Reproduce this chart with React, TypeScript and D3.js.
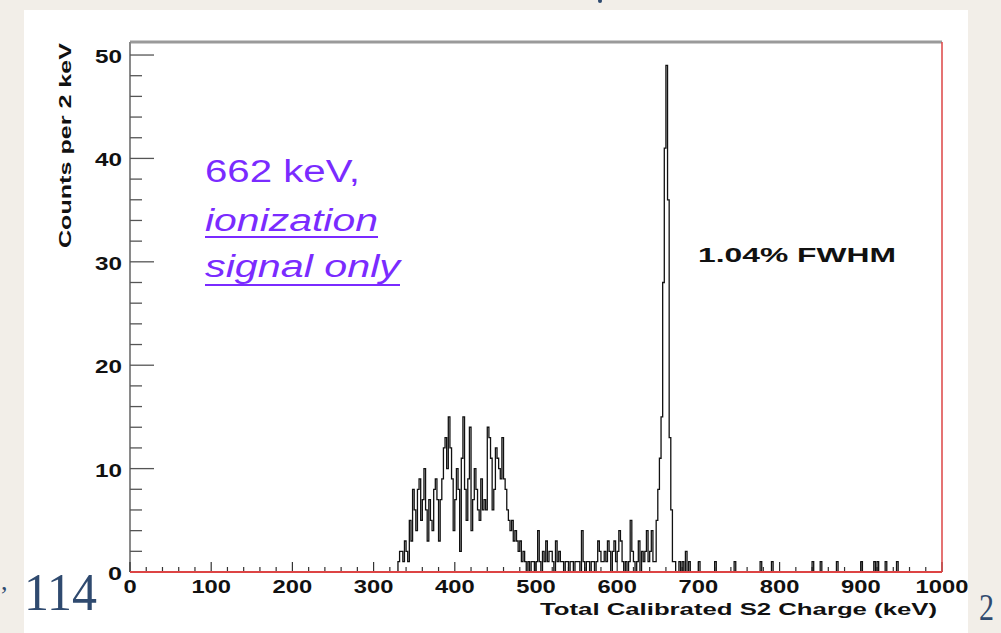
import React, { useEffect } from "react";
import * as d3 from "d3";

// ---- data (counts per 2 keV bin) ----
const BIN_WIDTH = 2;
const X_MAX = 1000;

// bins starting at 330 keV (bulk of the spectrum)
const bulkStart = 330;
const bulkCounts = [
  1, 2, 2, 1, 3, 2, 1, 5, 3, 8, 6, 4, 8, 9, 5, 7, 10, 6, 3, 7,
  5, 4, 8, 9, 7, 3, 7, 9, 12, 13, 10, 15, 12, 9, 4, 7, 10, 8, 2, 11,
  15, 8, 5, 9, 14, 4, 7, 10, 8, 6, 5, 9, 6, 7, 6, 14, 13, 11, 6, 8,
  12, 11, 10, 9, 13, 9, 8, 6, 5, 4, 5, 3, 4, 3, 2, 3, 1, 2, 1, 0,
  1, 0, 1, 1, 0,
];

// bins starting at 500 keV (Compton tail region)
const tailStart = 500;
const tailCounts = [
  1, 4, 1, 0, 2, 1, 3, 1, 2, 2, 1, 0, 3, 1, 2, 1, 1, 0, 1, 1,
  0, 1, 1, 0, 1, 1, 1, 0, 4, 1, 0, 1, 1, 0, 1, 1, 0, 1, 3, 2,
  1, 1, 2, 1, 3, 2, 0, 2, 3, 1, 2, 4, 3, 1, 0, 1, 0, 1, 5, 2,
  1, 0, 1, 3, 0, 2, 1, 2, 4, 1,
];

// bins starting at 640 keV (photopeak)
const peakStart = 640;
const peakCounts = [2, 4, 1, 1, 5, 8, 11, 15, 28, 41, 49, 36, 13, 6, 1, 1];

// isolated counts above the peak: bin start keV and count
const highKeV = [676, 680, 684, 688, 700, 720, 744, 776, 790, 840, 850, 870, 900, 916, 920, 930, 944];
const highCounts = [1, 1, 2, 1, 1, 1, 1, 1, 1, 1, 1, 1, 1, 1, 1, 1, 1];

const xTicks = [0, 100, 200, 300, 400, 500, 600, 700, 800, 900, 1000];
const yTicks = [0, 10, 20, 30, 40, 50];

const yTitle = "Counts per 2 keV";
const xTitle = "Total Calibrated S2 Charge (keV)";
const noteLines = ["662 keV,", "ionization", "signal only"];
const fwhmLabel = "1.04% FWHM";

function buildHistogram(): number[] {
  const n = X_MAX / BIN_WIDTH;
  const h = new Array(n).fill(0);
  const put = (start: number, arr: number[]) =>
    arr.forEach((v, i) => {
      const idx = start / BIN_WIDTH + i;
      if (idx >= 0 && idx < n) h[idx] = v;
    });
  put(bulkStart, bulkCounts);
  put(tailStart, tailCounts);
  put(peakStart, peakCounts);
  highKeV.forEach((k, i) => {
    h[k / BIN_WIDTH] = highCounts[i];
  });
  return h;
}

export default function App() {
  useEffect(() => {
    document.body.style.margin = "0";
  }, []);

  const W = 1001;
  const H = 633;
  const left = 130, right = 942, top = 42, bottom = 572;

  const x = d3.scaleLinear().domain([0, X_MAX]).range([left, right]);
  const y = d3.scaleLinear().domain([0, 51.26]).range([bottom, top]);

  const hist = buildHistogram();
  const pts: [number, number][] = hist.map((v, i) => [i * BIN_WIDTH, v]);
  pts.push([X_MAX, hist[hist.length - 1]]);
  const line = d3
    .line<[number, number]>()
    .x((d) => x(d[0]))
    .y((d) => y(d[1]))
    .curve(d3.curveStepAfter);
  const histPath = line(pts) || "";

  const yMinor = d3.range(0, 51, 2);
  const xMinor = d3.range(0, 1001, 20);

  const font = "'Liberation Sans', Arial, Helvetica, sans-serif";
  const serif = "'Liberation Serif', 'DejaVu Serif', serif";

  return (
    <svg width={W} height={H} style={{ display: "block" }}>
      <rect x={0} y={0} width={W} height={H} fill="#f2eee8" />
      <rect x={24} y={10} width={944} height={H - 10} fill="#ffffff" />
      {/* slide text fragments */}
      <circle cx={600} cy={1} r={2} fill="#2f4a6f" />
      <text x={1} y={590} fontFamily={serif} fontSize={26} fill="#2f4a6f">
        ,
      </text>
      <text x={24} y={610} fontFamily={serif} fontSize={52} fill="#2f4a6f" textLength={73} lengthAdjust="spacingAndGlyphs">
        114
      </text>
      <text x={979} y={620} fontFamily={serif} fontSize={38} fill="#2f4a6f" textLength={15} lengthAdjust="spacingAndGlyphs">
        2
      </text>

      {/* frame */}
      <line x1={left} x2={right} y1={top} y2={top} stroke="#9a9a9a" strokeWidth={3} />
      <line x1={left} x2={left} y1={top} y2={bottom} stroke="#8a8a8a" strokeWidth={2} />

      {/* y ticks */}
      {yMinor.map((v) => (
        <line
          key={"ym" + v}
          x1={left}
          x2={left + (v % 10 === 0 ? 24 : 12)}
          y1={y(v)}
          y2={y(v)}
          stroke="#555"
          strokeWidth={1.3}
        />
      ))}
      {/* x ticks */}
      {xMinor.map((v) => (
        <line
          key={"xm" + v}
          x1={x(v)}
          x2={x(v)}
          y1={bottom}
          y2={bottom - (v % 100 === 0 ? 10 : 5)}
          stroke="#333"
          strokeWidth={1.2}
        />
      ))}

      {/* histogram */}
      <path d={histPath} fill="none" stroke="#111" strokeWidth={1.3} />

      {/* red fit line along zero and right edge */}
      <line x1={left} x2={right} y1={bottom} y2={bottom} stroke="#dd4444" strokeWidth={2} />
      <line x1={right} x2={right} y1={top} y2={bottom} stroke="#dd4444" strokeWidth={1.5} />

      {/* y tick labels */}
      {yTicks.map((v) => (
        <text
          key={"yl" + v}
          x={122}
          y={y(v) + 8}
          textAnchor="end"
          fontFamily={font}
          fontWeight="bold"
          fontSize={18}
          fill="#111"
          textLength={v === 0 ? 14 : 27}
          lengthAdjust="spacingAndGlyphs"
        >
          {v}
        </text>
      ))}
      {/* x tick labels */}
      {xTicks.map((v) => {
        const s = String(v);
        const len = s.length * 13.2;
        return (
          <text
            key={"xl" + v}
            x={x(v) - len / 2}
            y={593}
            fontFamily={font}
            fontWeight="bold"
            fontSize={18}
            fill="#111"
            textLength={len}
            lengthAdjust="spacingAndGlyphs"
          >
            {s}
          </text>
        );
      })}

      {/* axis titles */}
      <text
        x={540}
        y={615}
        fontFamily={font}
        fontWeight="bold"
        fontSize={17}
        fill="#111"
        textLength={397}
        lengthAdjust="spacingAndGlyphs"
      >
        {xTitle}
      </text>
      <text
        transform="translate(71,248) rotate(-90)"
        x={0}
        y={0}
        fontFamily={font}
        fontWeight="bold"
        fontSize={16}
        fill="#111"
        textLength={205}
        lengthAdjust="spacingAndGlyphs"
      >
        {yTitle}
      </text>

      {/* annotations */}
      <text
        x={205}
        y={182}
        fontFamily={font}
        fontSize={31}
        fill="#7a2bff"
        textLength={155}
        lengthAdjust="spacingAndGlyphs"
      >
        {noteLines[0]}
      </text>
      <text
        x={205}
        y={231}
        fontFamily={font}
        fontStyle="italic"
        fontSize={31}
        fill="#7a2bff"
        textLength={173}
        lengthAdjust="spacingAndGlyphs"
      >
        {noteLines[1]}
      </text>
      <line x1={205} x2={378} y1={237} y2={237} stroke="#7a2bff" strokeWidth={2} />
      <text
        x={205}
        y={277}
        fontFamily={font}
        fontStyle="italic"
        fontSize={31}
        fill="#7a2bff"
        textLength={195}
        lengthAdjust="spacingAndGlyphs"
      >
        {noteLines[2]}
      </text>
      <line x1={205} x2={400} y1={285} y2={285} stroke="#7a2bff" strokeWidth={2} />

      <text
        x={698}
        y={262}
        fontFamily={font}
        fontWeight="bold"
        fontSize={21}
        fill="#111"
        textLength={198}
        lengthAdjust="spacingAndGlyphs"
      >
        {fwhmLabel}
      </text>
    </svg>
  );
}
